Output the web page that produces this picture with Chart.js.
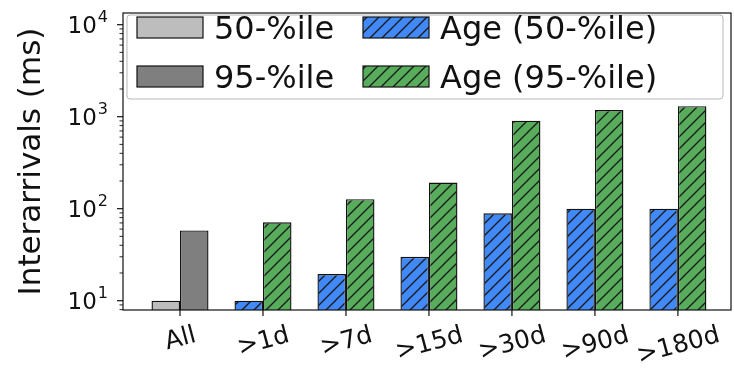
<!DOCTYPE html>
<html>
<head>
<meta charset="utf-8">
<script src="https://cdn.jsdelivr.net/npm/chart.js@4.4.1/dist/chart.umd.min.js"></script>
<style>
  html, body { margin: 0; padding: 0; background: #ffffff; }
  #wrap { width: 734px; height: 369px; }
</style>
</head>
<body>
<div id="wrap"><canvas id="c" width="734" height="369"></canvas></div>
<script>
// Interarrival percentiles, overall and by object age
const categories = ['All', '>1d', '>7d', '>15d', '>30d', '>90d', '>180d'];
const pct50 = [10, null, null, null, null, null, null];
const pct95 = [58, null, null, null, null, null, null];
const age50 = [null, 10, 19.5, 30, 89, 100, 100];
const age95 = [null, 71, 127, 192, 905, 1180, 1300];
const seriesNames = ['50-%ile', '95-%ile', 'Age (50-%ile)', 'Age (95-%ile)'];
const yTickExponents = [1, 2, 3, 4];
const yTitle = 'Interarrivals (ms)';

const FONT = '"DejaVu Sans", "Liberation Sans", sans-serif';
const INK = '#111111';

function hatch(bg) {
  const s = 12;
  const c = document.createElement('canvas');
  c.width = s; c.height = s;
  const g = c.getContext('2d');
  g.fillStyle = bg;
  g.fillRect(0, 0, s, s);
  g.strokeStyle = '#1a1a1a';
  g.lineWidth = 1.35;
  g.beginPath();
  g.moveTo(-3, 3); g.lineTo(3, -3);
  g.moveTo(0, s); g.lineTo(s, 0);
  g.moveTo(s - 3, s + 3); g.lineTo(s + 3, s - 3);
  g.stroke();
  return g.createPattern(c, 'repeat');
}

const ctx0 = document.getElementById('c').getContext('2d');
const fills = [
  '#bdbdbd',
  '#7f7f7f',
  hatch('#4189f7'),
  hatch('#57ad5b')
];

function points(arr) {
  const out = [];
  arr.forEach((v, i) => { if (v !== null) out.push({ x: i, y: v }); });
  return out;
}

const seriesData = [pct50, pct95, age50, age95];
const datasets = seriesData.map((arr, k) => ({
  label: seriesNames[k],
  data: points(arr),
  backgroundColor: fills[k],
  borderColor: INK,
  borderWidth: 1.4,
  skipNull: true,
  categoryPercentage: 0.687,
  barPercentage: 1.0
}));

// Axes frame, tick marks and tick labels
const axesDecor = {
  id: 'axesDecor',
  afterDatasetsDraw(chart) {
    const { ctx, chartArea: a } = chart;
    const xs = chart.scales.x, ys = chart.scales.y;
    ctx.save();
    ctx.strokeStyle = INK;
    ctx.lineWidth = 1.2;
    ctx.strokeRect(a.left, a.top, a.right - a.left, a.bottom - a.top);

    // y ticks (major + minor)
    for (const e of yTickExponents.concat([0])) {
      for (let k = 1; k <= 9; k++) {
        const v = k * Math.pow(10, e);
        if (v < ys.min || v > ys.max) continue;
        const py = ys.getPixelForValue(v);
        const len = k === 1 ? 6 : 3.5;
        ctx.lineWidth = k === 1 ? 1.2 : 0.9;
        ctx.beginPath();
        ctx.moveTo(a.left - len, py);
        ctx.lineTo(a.left, py);
        ctx.stroke();
      }
    }
    // y tick labels 10^n
    ctx.fillStyle = INK;
    ctx.textBaseline = 'alphabetic';
    for (const e of yTickExponents) {
      const py = ys.getPixelForValue(Math.pow(10, e));
      ctx.font = '16px ' + FONT;
      const sup = String(e);
      const supW = ctx.measureText(sup).width;
      const right = a.left - 15;
      ctx.textAlign = 'right';
      ctx.fillText(sup, right, py - 3);
      ctx.font = '23px ' + FONT;
      ctx.fillText('10', right - supW - 1, py + 8.5);
    }

    // x ticks and rotated, centred labels
    ctx.lineWidth = 1.2;
    const fs = 25;
    ctx.font = fs + 'px ' + FONT;
    const rot = 15 * Math.PI / 180;
    categories.forEach((lab, i) => {
      const px = xs.getPixelForValue(i);
      ctx.beginPath();
      ctx.moveTo(px, a.bottom);
      ctx.lineTo(px, a.bottom + 6);
      ctx.stroke();
      const w = ctx.measureText(lab).width;
      const h = fs * 1.164;
      const bh = w * Math.sin(rot) + h * Math.cos(rot);
      const cy = a.bottom + 9 + bh / 2;
      ctx.save();
      ctx.translate(px, cy);
      ctx.rotate(-rot);
      ctx.textAlign = 'center';
      ctx.textBaseline = 'alphabetic';
      ctx.fillText(lab, 0, fs * 0.346);
      ctx.restore();
    });

    // y axis title
    ctx.save();
    ctx.font = '31px ' + FONT;
    ctx.translate(40, (a.top + a.bottom) / 2);
    ctx.rotate(-Math.PI / 2);
    ctx.textAlign = 'center';
    ctx.textBaseline = 'alphabetic';
    ctx.fillText(yTitle, 0, 0);
    ctx.restore();
    ctx.restore();
  }
};

// Two-column legend inside the axes, upper left
const boxLegend = {
  id: 'boxLegend',
  afterDraw(chart) {
    const { ctx, chartArea: a } = chart;
    ctx.save();
    const x0 = a.left + 4, y0 = a.top + 2, x1 = 723, y1 = 99;
    ctx.fillStyle = 'rgba(255,255,255,0.8)';
    ctx.strokeStyle = '#b8b8b8';
    ctx.lineWidth = 1;
    ctx.beginPath();
    ctx.roundRect(x0, y0, x1 - x0, y1 - y0, 3);
    ctx.fill();
    ctx.stroke();
    const cols = [137, 363];
    const rows = [17, 66];
    const order = [[0, 0], [0, 1], [1, 0], [1, 1]]; // [col,row] for each series
    ctx.font = '32px ' + FONT;
    ctx.textAlign = 'left';
    ctx.textBaseline = 'alphabetic';
    seriesNames.forEach((name, k) => {
      const [c, r] = order[k];
      const hx = cols[c], hy = rows[r];
      ctx.fillStyle = fills[k];
      ctx.fillRect(hx, hy, 66, 21);
      ctx.strokeStyle = INK;
      ctx.lineWidth = 1.2;
      ctx.strokeRect(hx, hy, 66, 21);
      ctx.fillStyle = INK;
      ctx.fillText(name, hx + 77, hy + 22);
    });
    ctx.restore();
  }
};

new Chart(ctx0, {
  type: 'bar',
  data: { datasets },
  options: {
    responsive: false,
    animation: false,
    devicePixelRatio: 1,
    layout: { padding: { left: 0, right: 3, top: 13, bottom: 0 } },
    plugins: { legend: { display: false }, tooltip: { enabled: false } },
    scales: {
      x: {
        type: 'linear',
        min: -0.687,
        max: 6.64,
        offset: false,
        grid: { display: false },
        border: { display: false },
        ticks: { display: false },
        afterBuildTicks(scale) { scale.ticks = categories.map((_, i) => ({ value: i })); },
        afterFit(scale) { scale.height = 59; }
      },
      y: {
        type: 'logarithmic',
        min: 7.92,
        max: 13400,
        grid: { display: false },
        border: { display: false },
        ticks: { display: false },
        afterFit(scale) { scale.width = 123; }
      }
    }
  },
  plugins: [axesDecor, boxLegend]
});
</script>
</body>
</html>
